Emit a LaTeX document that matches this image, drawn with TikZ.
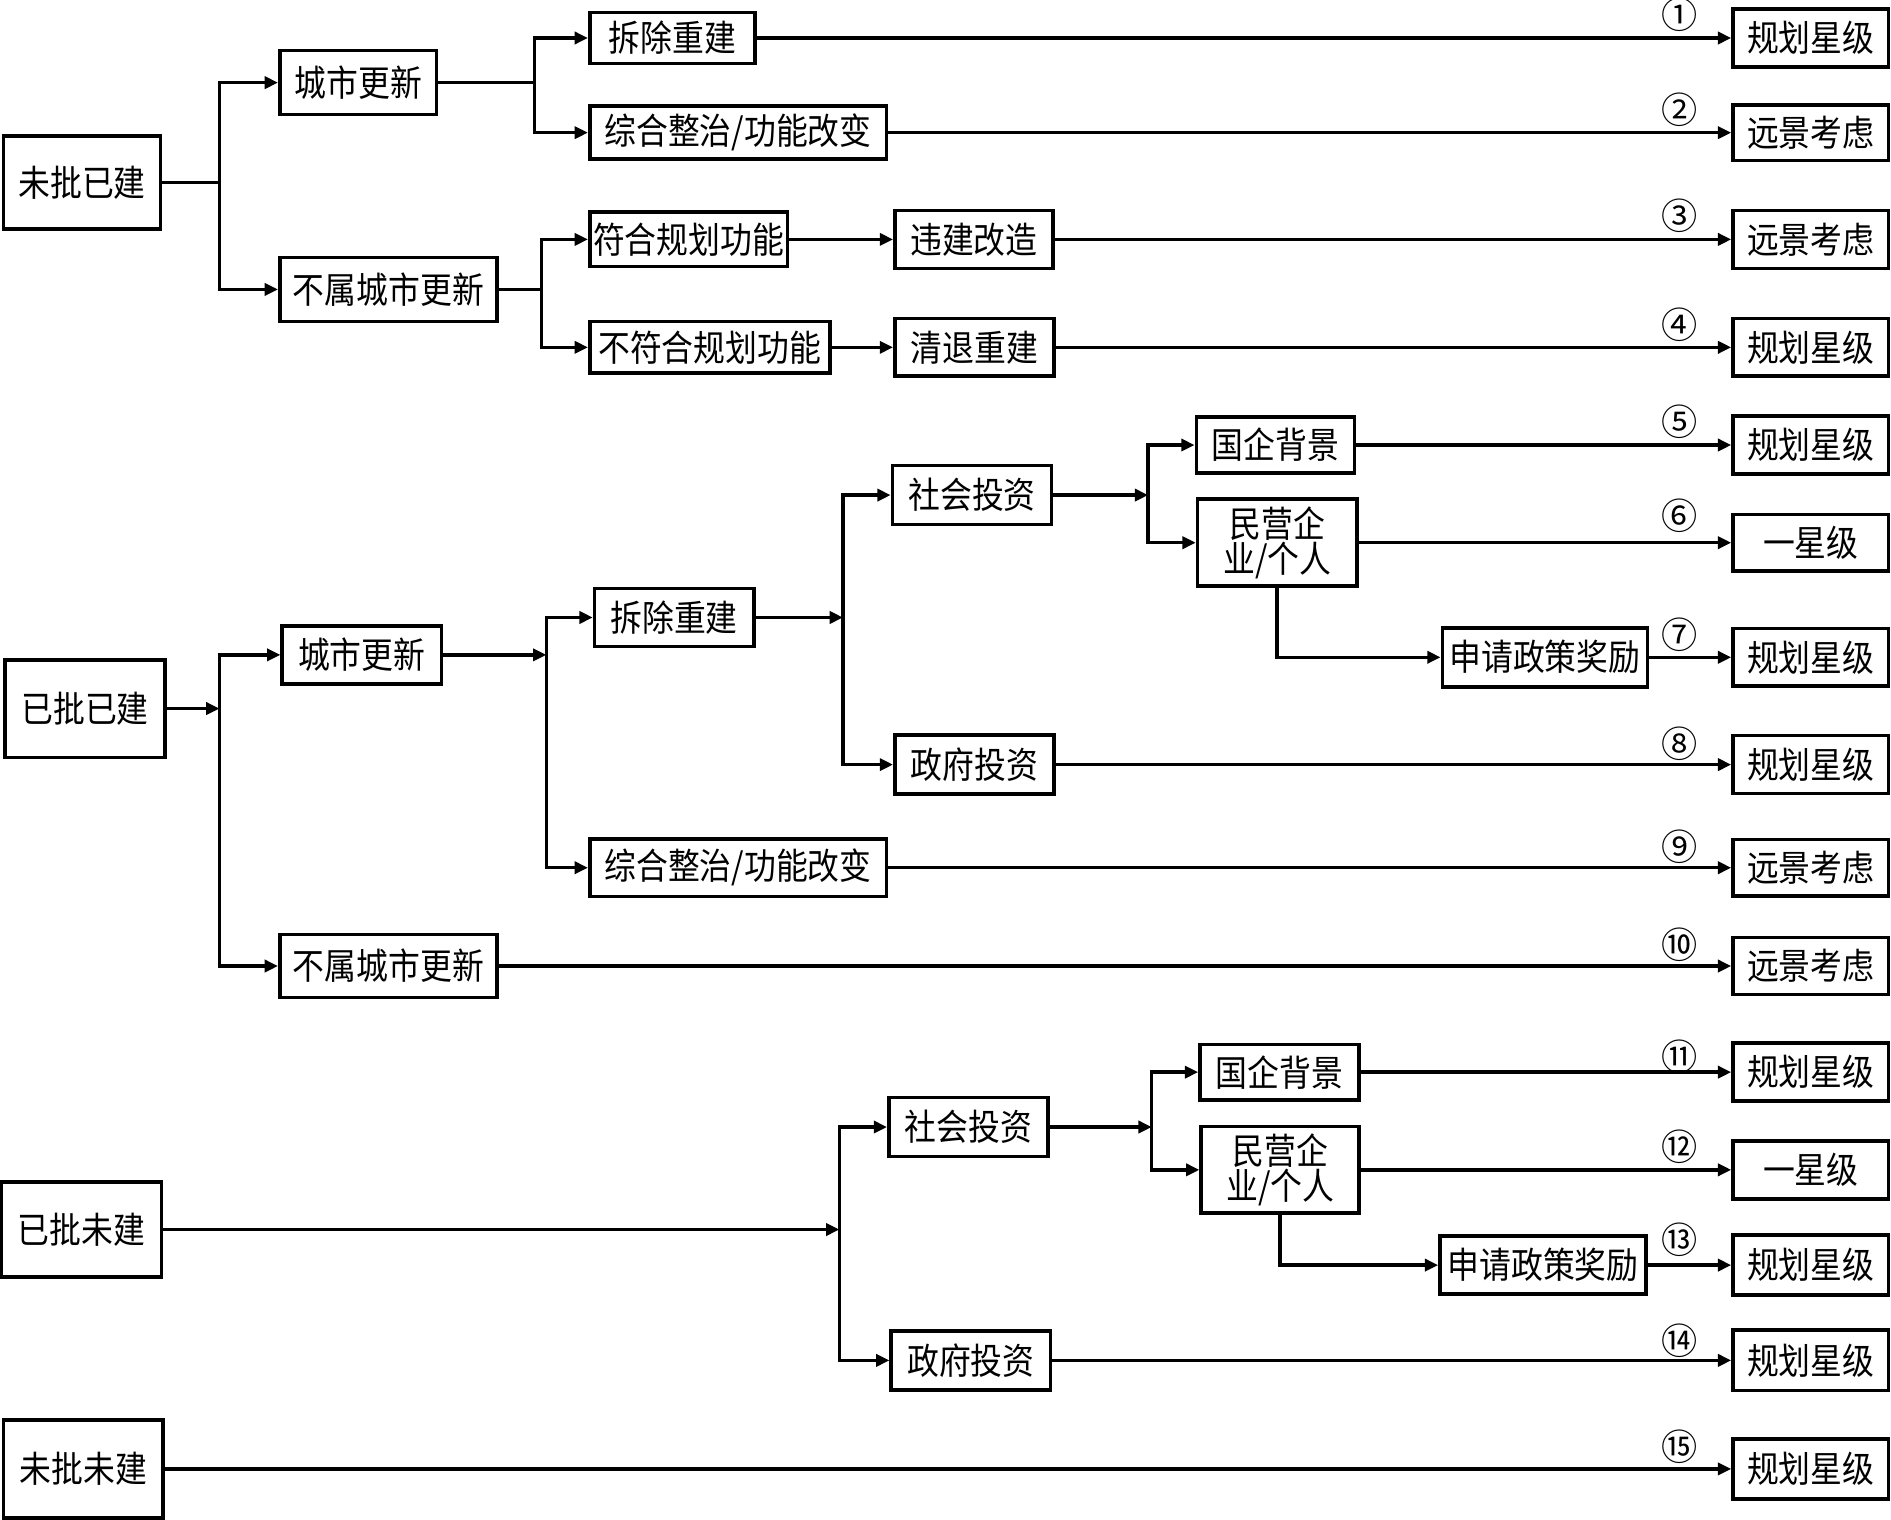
\documentclass[tikz,border=0pt]{standalone}
\usepackage{fontspec}
\newfontfamily\cjk[FakeStretch=0.88]{Noto Sans CJK SC}
\newfontfamily\cjknum{Noto Sans CJK SC}
\usetikzlibrary{arrows.meta}
\begin{document}
\begin{tikzpicture}[x=0.5pt,y=-0.5pt,
  box/.style={draw=black,line width=1.5pt,inner sep=1pt,align=center,
    font=\cjk\fontsize{15}{14.5}\selectfont,text=black},
  sz/.style n args={2}{minimum width=0.5pt*#1,minimum height=0.5pt*#2},
  conn/.style={line width=1.4pt,draw=black},
  arr/.style={conn,-{Triangle[length=5.5pt,width=5pt]}},
  num/.style={inner sep=0pt,font=\cjknum\fontsize{15}{15}\selectfont}]
\useasboundingbox (0,0) rectangle (1568,1260);
% ---------- group 1 ----------
\node[box,sz={130}{77}] (A1) at (68,151.5) {未批已建};
\node[box,sz={130}{53}] (B1) at (297,68.5) {城市更新};
\node[box,sz={180}{53}] (B2) at (322,240) {不属城市更新};
\node[box,sz={137}{42}] (C1) at (557.5,31.5) {拆除重建};
\node[box,sz={246}{44}] (C2) at (612,110) {综合整治/功能改变};
\node[box,sz={164}{45}] (C3) at (571,198.5) {符合规划功能};
\node[box,sz={199}{43}] (C4) at (588.5,288) {不符合规划功能};
\node[box,sz={131}{48}] (D1) at (807.5,198.5) {违建改造};
\node[box,sz={132}{48}] (D2) at (808,288) {清退重建};
\node[box,sz={129}{48}] (R1) at (1501.5,31.5) {规划星级};
\node[box,sz={129}{46}] (R2) at (1501.5,110) {远景考虑};
\node[box,sz={129}{48}] (R3) at (1501.5,198.5) {远景考虑};
\node[box,sz={129}{48}] (R4) at (1501.5,288) {规划星级};
\coordinate (s1) at (182,151.5);
\coordinate (s2) at (443,68.5);
\coordinate (s3) at (449,240);
\draw[conn] (A1.east) -- (s1);
\draw[arr] (s1) |- (B1.west);
\draw[arr] (s1) |- (B2.west);
\draw[conn] (B1.east) -- (s2);
\draw[arr] (s2) |- (C1.west);
\draw[arr] (s2) |- (C2.west);
\draw[conn] (B2.east) -- (s3);
\draw[arr] (s3) |- (C3.west);
\draw[arr] (s3) |- (C4.west);
\draw[arr] (C3) -- (D1);
\draw[arr] (C4) -- (D2);
\draw[arr] (C1) -- (R1);
\draw[arr] (C2) -- (R2);
\draw[arr] (D1) -- (R3);
\draw[arr] (D2) -- (R4);
\node[num] (n1) at (1393,12) {①};
\node[num] (n2) at (1393,91) {②};
\node[num] (n3) at (1393,179) {③};
\node[num] (n4) at (1393,269) {④};
% ---------- group 2 ----------
\node[box,sz={133}{81}] (E) at (70.5,587.5) {已批已建};
\node[box,sz={132}{48}] (F1) at (300,543) {城市更新};
\node[box,sz={180}{52}] (F2) at (322,801) {不属城市更新};
\node[box,sz={132}{48}] (G1) at (559,512) {拆除重建};
\node[box,sz={246}{48}] (G2) at (612,719.5) {综合整治/功能改变};
\node[box,sz={132}{49}] (H1) at (806,410.5) {社会投资};
\node[box,sz={132}{49}] (H2) at (808,634) {政府投资};
\node[box,sz={131}{46}] (I1) at (1057.5,369) {国企背景};
\node[box,sz={132}{72}] (I2) at (1059,450) {民营企\\业/个人};
\node[box,sz={170}{49}] (J) at (1281,545) {申请政策奖励};
\node[box,sz={129}{48}] (R5) at (1501.5,369) {规划星级};
\node[box,sz={129}{47}] (R6) at (1501.5,450) {一星级};
\node[box,sz={129}{48}] (R7) at (1501.5,545) {规划星级};
\node[box,sz={129}{48}] (R8) at (1501.5,634) {规划星级};
\node[box,sz={129}{47}] (R9) at (1501.5,719.5) {远景考虑};
\node[box,sz={129}{47}] (R10) at (1501.5,801) {远景考虑};
\coordinate (s4) at (182,587.5);
\coordinate (s5) at (453,543);
\coordinate (s6) at (699,512);
\coordinate (s7) at (952,410.5);
\draw[arr] (E.east) -- (s4);
\draw[arr] (s4) |- (F1.west);
\draw[arr] (s4) |- (F2.west);
\draw[arr] (F1.east) -- (s5);
\draw[arr] (s5) |- (G1.west);
\draw[arr] (s5) |- (G2.west);
\draw[arr] (G1.east) -- (s6);
\draw[arr] (s6) |- (H1.west);
\draw[arr] (s6) |- (H2.west);
\draw[arr] (H1.east) -- (s7);
\draw[arr] (s7) |- (I1.west);
\draw[arr] (s7) |- (I2.west);
\draw[arr] (I2.south) |- (J.west);
\draw[arr] (I1) -- (R5);
\draw[arr] (I2) -- (R6);
\draw[arr] (J) -- (R7);
\draw[arr] (H2) -- (R8);
\draw[arr] (G2) -- (R9);
\draw[arr] (F2) -- (R10);
\node[num] (n5) at (1393,350) {⑤};
\node[num] (n6) at (1393,428) {⑥};
\node[num] (n7) at (1393,526) {⑦};
\node[num] (n8) at (1393,617) {⑧};
\node[num] (n9) at (1393,702) {⑨};
\node[num] (n10) at (1393,783) {⑩};
% ---------- group 3 ----------
\node[box,sz={133}{79}] (K) at (67.5,1019.5) {已批未建};
\node[box,sz={132}{49}] (L1) at (803,934.5) {社会投资};
\node[box,sz={132}{49}] (L2) at (805,1128) {政府投资};
\node[box,sz={132}{46}] (M1) at (1061,889) {国企背景};
\node[box,sz={131}{72}] (M2) at (1061.5,970) {民营企\\业/个人};
\node[box,sz={171}{48}] (N) at (1279.5,1049) {申请政策奖励};
\node[box,sz={129}{48}] (R11) at (1501.5,889) {规划星级};
\node[box,sz={129}{48}] (R12) at (1501.5,970) {一星级};
\node[box,sz={129}{50}] (R13) at (1501.5,1049) {规划星级};
\node[box,sz={129}{50}] (R14) at (1501.5,1128) {规划星级};
\coordinate (s8) at (696,1019.5);
\coordinate (s9) at (955,934.5);
\draw[arr] (K.east) -- (s8);
\draw[arr] (s8) |- (L1.west);
\draw[arr] (s8) |- (L2.west);
\draw[arr] (L1.east) -- (s9);
\draw[arr] (s9) |- (M1.west);
\draw[arr] (s9) |- (M2.west);
\draw[arr] (M2.south) |- (N.west);
\draw[arr] (M1) -- (R11);
\draw[arr] (M2) -- (R12);
\draw[arr] (N) -- (R13);
\draw[arr] (L2) -- (R14);
\node[num] (n11) at (1393,876) {⑪};
\node[num] (n12) at (1393,951) {⑫};
\node[num] (n13) at (1393,1028) {⑬};
\node[num] (n14) at (1393,1112) {⑭};
% ---------- group 4 ----------
\node[box,sz={132}{81}] (P) at (69,1218) {未批未建};
\node[box,sz={129}{50}] (R15) at (1501.5,1218) {规划星级};
\draw[arr] (P) -- (R15);
\node[num] (n15) at (1393,1200) {⑮};
\end{tikzpicture}
\end{document}
